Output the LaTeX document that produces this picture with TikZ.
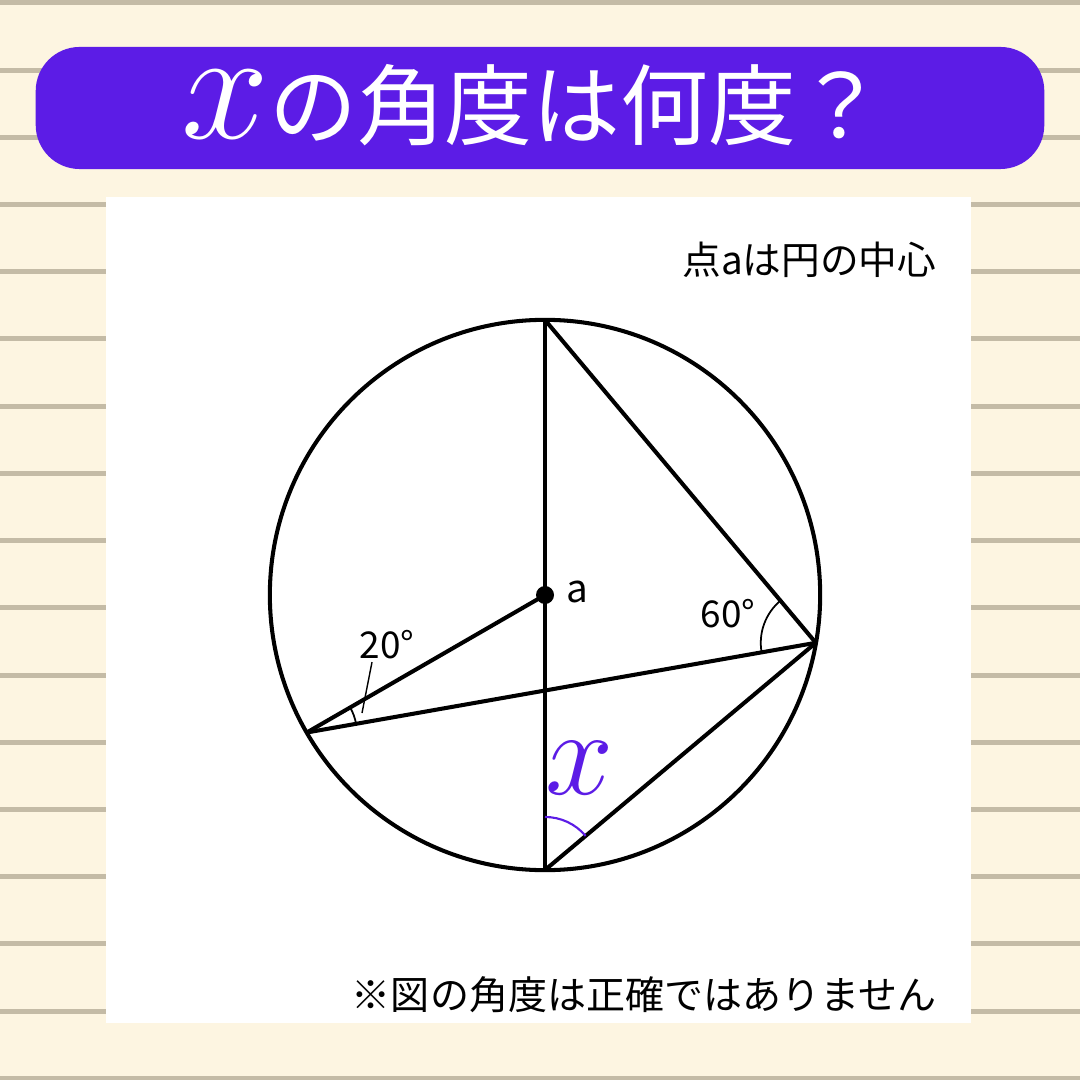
\documentclass[tikz,border=0pt]{standalone}
\usepackage{fontspec}
\setmainfont{Noto Sans CJK JP}
\usetikzlibrary{angles}
\definecolor{paper}{RGB}{253,245,225}
\definecolor{ruling}{RGB}{196,187,166}
\definecolor{quizpurple}{RGB}{92,28,230}
\newcommand{\varx}[1]{\scalebox{#1}{$x$}}

\begin{document}
\begin{tikzpicture}[x=0.01cm, y=-0.01cm, line join=round,
        geo/.style={line width=1.15pt, black},
        lbl/.style={inner sep=0pt, font=\fontsize{10.5}{12}\selectfont},
        note/.style={inner sep=0pt, anchor=east}]
        \useasboundingbox (0,0) rectangle (1080,1080);
        % paper and rules
        \fill[paper] (0,0) rectangle (1080,1080);
        \foreach \k in {0,...,16}
            \fill[ruling] (0,{0.5+67.2*\k}) rectangle (1080,{5.5+67.2*\k});
        \fill[white] (106,197) rectangle (971,1023);
        % title
        \node(title) at (540,108) [rectangle, fill=quizpurple, rounded corners=12.5pt,
            minimum width=10.08cm, minimum height=1.22cm] {};
        \node(titletext) at (533,105) [inner sep=0pt, text=white,
            font=\fontsize{25}{28}\selectfont] {\varx{1.8}の角度は何度？};
        % points on the circle
        \coordinate(ctr) at (545,595);
        \coordinate(top) at (545,320);
        \coordinate(bot) at (545,870);
        \coordinate(rgt) at (815.8,642.8);
        \coordinate(lft) at (306.8,732.5);
        \draw[geo] (ctr) circle[radius=2.75cm];
        \draw[geo] (top) -- (bot);
        \draw[geo] (top) -- (rgt);
        \draw[geo] (rgt) -- (lft);
        \draw[geo] (lft) -- (ctr);
        \draw[geo] (rgt) -- (bot);
        \fill (ctr) circle[radius=0.09cm];
        % angles
        \pic [draw, line width=0.5pt, angle radius=0.5cm] {angle = rgt--lft--ctr};
        \pic [draw, line width=0.5pt, angle radius=0.55cm] {angle = top--rgt--lft};
        \pic [draw=quizpurple, line width=0.6pt, angle radius=0.53cm] {angle = rgt--bot--top};
        % labels
        \node(a) at (577,592) [lbl, font=\fontsize{11}{12}\selectfont] {a};
        \node(d20) at (387,645) [lbl] {20°};
        \coordinate(p20) at (362,713);
        \draw[line width=0.4pt] (d20.south) ++(-15,2) coordinate(q20) (q20) -- (p20);
        \node(d60) at (728,614) [lbl] {60°};
        \node(x) at (580,768) [inner sep=0pt, text=quizpurple, font=\fontsize{25}{28}\selectfont] {\varx{1.4}};
        \node(info) at (937,260) [note, font=\fontsize{11}{13}\selectfont] {点aは円の中心};
        \node(warn) at (937,995) [note, font=\fontsize{11.1}{13}\selectfont] {※図の角度は正確ではありません};
\end{tikzpicture}
\end{document}
